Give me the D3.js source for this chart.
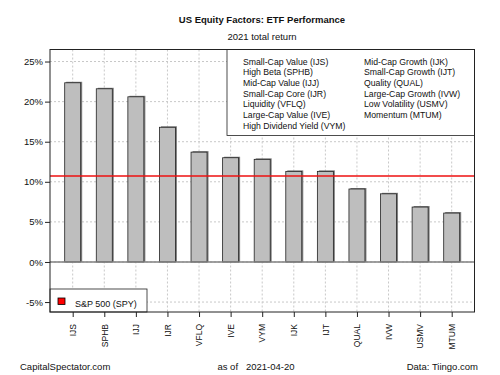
<!DOCTYPE html>
<html>
<head>
<meta charset="utf-8">
<script src="https://cdn.jsdelivr.net/npm/d3@7"></script>
<style>
body { margin: 0; background: #fff; }
svg { font-family: "Liberation Sans", Arial, sans-serif; }
</style>
</head>
<body>
<div id="chart"></div>
<script>
var tickers = ["IJS", "SPHB", "IJJ", "IJR", "VFLQ", "IVE", "VYM", "IJK", "IJT", "QUAL", "IVW", "USMV", "MTUM"];
var returns = [22.35, 21.6, 20.6, 16.8, 13.7, 13.0, 12.8, 11.3, 11.3, 9.1, 8.5, 6.85, 6.1];
var spy = 10.73;
var yTicks = [-5, 0, 5, 10, 15, 20, 25];
var legendLeft = ["Small-Cap Value (IJS)", "High Beta (SPHB)", "Mid-Cap Value (IJJ)", "Small-Cap Core (IJR)",
    "Liquidity (VFLQ)", "Large-Cap Value (IVE)", "High Dividend Yield (VYM)"];
var legendRight = ["Mid-Cap Growth (IJK)", "Small-Cap Growth (IJT)", "Quality (QUAL)", "Large-Cap Growth (IVW)",
    "Low Volatility (USMV)", "Momentum (MTUM)"];

var width = 500, height = 375;
// note: "top" is taken by window.top, so plot edges get their own names
var plotL = 50, plotR = 474.5, plotT = 49.5, plotB = 312;

var svg = d3.select("#chart").append("svg")
    .attr("width", width)
    .attr("height", height);

var y = d3.scaleLinear().domain([-6.24, 26.5]).range([plotB, plotT]);
var x = d3.scalePoint().domain(tickers).range([72.7, 451.7]);
var barW = 16;

// grid
svg.append("g").selectAll("line").data(yTicks).enter().append("line")
    .attr("x1", plotL).attr("x2", plotR)
    .attr("y1", function (d) { return y(d); })
    .attr("y2", function (d) { return y(d); })
    .style("stroke", "#c8c8c8")
    .style("stroke-dasharray", "2,2");
svg.append("g").selectAll("line").data(tickers).enter().append("line")
    .attr("x1", function (d) { return x(d); })
    .attr("x2", function (d) { return x(d); })
    .attr("y1", plotT).attr("y2", plotB)
    .style("stroke", "#c8c8c8")
    .style("stroke-dasharray", "2,2");

// bars (with a gray shadow like the original)
var bars = svg.append("g");
bars.selectAll("rect.shadow").data(returns).enter().append("rect")
    .attr("class", "shadow")
    .attr("x", function (d, i) { return x(tickers[i]) - barW / 2 + 1.5; })
    .attr("y", function (d) { return y(d) - 1; })
    .attr("width", barW)
    .attr("height", function (d) { return y(0) - y(d) + 1; })
    .style("fill", "#808080");
bars.selectAll("rect.bar").data(returns).enter().append("rect")
    .attr("class", "bar")
    .attr("x", function (d, i) { return x(tickers[i]) - barW / 2; })
    .attr("y", function (d) { return y(d); })
    .attr("width", barW)
    .attr("height", function (d) { return y(0) - y(d); })
    .style("fill", "#bebebe")
    .style("stroke", "#222")
    .style("stroke-width", 0.8);

// zero line
svg.append("line")
    .attr("x1", plotL).attr("x2", plotR)
    .attr("y1", y(0)).attr("y2", y(0))
    .style("stroke", "#808080")
    .style("stroke-width", 1.5);

// SPY line
svg.append("line")
    .attr("x1", plotL).attr("x2", plotR)
    .attr("y1", y(spy)).attr("y2", y(spy))
    .style("stroke", "#ee1111")
    .style("stroke-width", 1.6);

// legend top right
var lg = svg.append("g");
lg.append("rect")
    .attr("x", 227).attr("y", plotT)
    .attr("width", plotR - 227).attr("height", 135.5 - plotT)
    .style("fill", "#fff").style("stroke", "#222").style("stroke-width", 0.8);
lg.selectAll("text.l").data(legendLeft).enter().append("text")
    .attr("class", "l")
    .attr("x", 243)
    .attr("y", function (d, i) { return 64.5 + i * 10.7; })
    .style("font-size", "8.7px")
    .style("fill", "#111")
    .text(function (d) { return d; });
lg.selectAll("text.r").data(legendRight).enter().append("text")
    .attr("class", "r")
    .attr("x", 364)
    .attr("y", function (d, i) { return 64.5 + i * 10.7; })
    .style("font-size", "8.7px")
    .style("fill", "#111")
    .text(function (d) { return d; });

// legend bottom left
svg.append("rect")
    .attr("x", plotL).attr("y", 289)
    .attr("width", 97).attr("height", plotB - 289)
    .style("fill", "#fff").style("stroke", "#222").style("stroke-width", 0.8);
svg.append("rect")
    .attr("x", 58).attr("y", 298)
    .attr("width", 7).attr("height", 6.5)
    .style("fill", "#ff0000").style("stroke", "#000").style("stroke-width", 0.8);
svg.append("text")
    .attr("x", 75).attr("y", 306.5)
    .style("font-size", "9px").style("fill", "#111")
    .text("S&P 500 (SPY)");

// frame
svg.append("rect")
    .attr("x", plotL).attr("y", plotT)
    .attr("width", plotR - plotL).attr("height", plotB - plotT)
    .style("fill", "none").style("stroke", "#222").style("stroke-width", 1);

// y axis
var yAxis = svg.append("g")
    .attr("transform", "translate(" + plotL + ",0)")
    .call(d3.axisLeft(y).tickValues(yTicks).tickSize(5).tickFormat(function (d) { return d + "%"; }));
yAxis.select(".domain").remove();
yAxis.selectAll("text").style("font-size", "9.5px").style("fill", "#111").attr("x", -7);
yAxis.selectAll("line").style("stroke", "#222");

// x axis
var xAxis = svg.append("g")
    .attr("transform", "translate(0," + plotB + ")")
    .call(d3.axisBottom(x).tickSize(5));
xAxis.select(".domain").remove();
xAxis.selectAll("line").style("stroke", "#222");
xAxis.selectAll("text")
    .style("font-size", "8.5px")
    .style("fill", "#111")
    .style("text-anchor", "end")
    .attr("dy", "0.32em")
    .attr("y", 0)
    .attr("x", -12)
    .attr("transform", "rotate(-90)");

// titles
svg.append("text")
    .attr("x", 262).attr("y", 23)
    .attr("text-anchor", "middle")
    .style("font-size", "9.5px").style("font-weight", "bold").style("fill", "#111")
    .text("US Equity Factors: ETF Performance");
svg.append("text")
    .attr("x", 262).attr("y", 40)
    .attr("text-anchor", "middle")
    .style("font-size", "9.5px").style("fill", "#111")
    .text("2021 total return");

// footer
svg.append("text")
    .attr("x", 20).attr("y", 370)
    .style("font-size", "9.5px").style("fill", "#111")
    .text("CapitalSpectator.com");
svg.append("text")
    .attr("x", 256).attr("y", 370)
    .attr("text-anchor", "middle")
    .style("font-size", "9.5px").style("fill", "#111")
    .attr("xml:space", "preserve")
    .text("as of   2021-04-20");
svg.append("text")
    .attr("x", 478).attr("y", 370)
    .attr("text-anchor", "end")
    .style("font-size", "9.5px").style("fill", "#111")
    .text("Data: Tiingo.com");
</script>
</body>
</html>
